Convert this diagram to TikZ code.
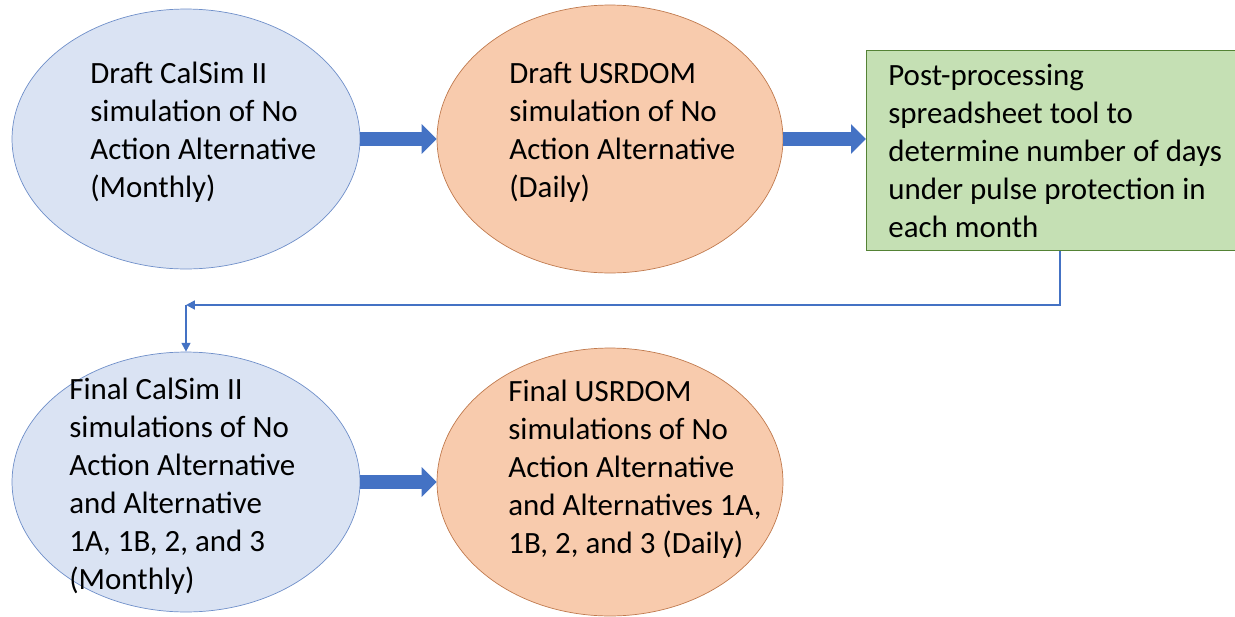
\documentclass[tikz,border=0pt]{standalone}
\usepackage{fontspec}
\setmainfont{Carlito}
\usetikzlibrary{positioning,shapes.geometric,arrows.meta}

\definecolor{simblue}{HTML}{DAE3F3}
\definecolor{simblueline}{HTML}{6F8FC9}
\definecolor{domorange}{HTML}{F8CBAD}
\definecolor{domorangeline}{HTML}{C07A4E}
\definecolor{postgreen}{HTML}{C5E0B4}
\definecolor{postgreenline}{HTML}{548235}
\definecolor{flowblue}{HTML}{4472C4}

\tikzset{
  calsim/.style={ellipse, draw=simblueline, fill=simblue, inner sep=0pt,
    minimum width=6.96cm, minimum height=5.2cm},
  usrdom/.style={ellipse, draw=domorangeline, fill=domorange, inner sep=0pt,
    minimum width=6.92cm, minimum height=5.36cm},
  postbox/.style={rectangle, draw=postgreenline, fill=postgreen, inner sep=0pt,
    minimum width=7.4cm, minimum height=4cm},
  txt/.style={align=left, inner sep=0pt, anchor=west,
    font=\fontsize{17.6}{21.6}\selectfont},
  bigarrow/.style={draw=flowblue, line width=0.28cm,
    -{Triangle[length=0.3cm,width=0.58cm]}},
  thinarrow/.style={draw=flowblue, line width=1.1pt, -{Triangle[length=5pt,width=5pt]}}
}

\begin{document}
\begin{tikzpicture}[x=0.02cm, y=-0.02cm]
  \useasboundingbox (0,0) rectangle (1235,616);

  % top row
  \node[calsim] (draftcalsim) at (186,139) {};
  \node[usrdom] (draftusrdom) at (610,139) {};
  \node[postbox, anchor=north west] (postproc) at (866,50) {};

  % bottom row
  \node[calsim] (finalcalsim) at (186,482) {};
  \node[usrdom] (finalusrdom) at (610,482) {};

  % texts
  \node[txt] (draftcalsim-txt) at (90,132) {Draft CalSim II\\simulation of No\\Action Alternative\\(Monthly)};
  \node[txt] (draftusrdom-txt) at (509,132) {Draft USRDOM\\simulation of No\\Action Alternative\\(Daily)};
  \node[txt] (postproc-txt) at (888,151) {Post-processing\\spreadsheet tool to\\determine number of days\\under pulse protection in\\each month};
  \node[txt] (finalcalsim-txt) at (69,486) {Final CalSim II\\simulations of No\\Action Alternative\\and Alternative\\1A, 1B, 2, and 3\\(Monthly)};
  \node[txt] (finalusrdom-txt) at (508,469) {Final USRDOM\\simulations of No\\Action Alternative\\and Alternatives 1A,\\1B, 2, and 3 (Daily)};

  % connectors
  \draw[bigarrow] (draftcalsim.east) -- (draftusrdom.west);
  \draw[bigarrow] (draftusrdom.east) -- (postproc.west |- draftusrdom.east);
  \draw[bigarrow] (finalcalsim.east) -- (finalusrdom.west);

  \coordinate (turn) at (finalcalsim.north |- 0,305);
  \draw[thinarrow] ([xshift=0.18cm]postproc.south) |- (turn);
  \draw[thinarrow] (turn) -- (finalcalsim.north);
\end{tikzpicture}
\end{document}
